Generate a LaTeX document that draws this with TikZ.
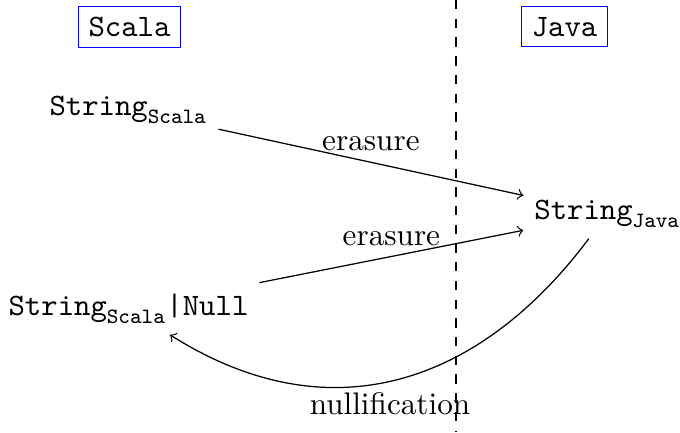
\documentclass[tikz,border=0pt]{standalone}
\begin{document}
\begin{tikzpicture}[x=0.3205pt,y=-0.3205pt,
  lang/.style={draw=blue, font=\ttfamily, anchor=base},
  typ/.style={anchor=base},
  conv/.style={->}]
\useasboundingbox (0,0) rectangle (680,432);

% boundary between the two languages
\coordinate (top) at (456,0);
\coordinate (bot) at (456,432);
\draw[dashed] (top) -- (bot);

% language headings
\node[lang] (scala) at (129.5,36.5) {Scala};
\node[lang] (java)  at (564.5,36)   {Java};

% types
\node[typ] (sS) at (128.5,115) {$\texttt{String}_{\mathtt{Scala}}$};
\node[typ] (sJ) at (607.5,219) {$\texttt{String}_{\mathtt{Java}}$};
\node[typ] (sN) at (128.5,315) {$\texttt{String}_{\mathtt{Scala}}\texttt{|Null}$};

% conversions
\draw[conv] (sS) -- node[above] {erasure} (sJ);
\draw[conv] (sN) -- node[above] {erasure} (sJ);
\coordinate (c1) at (480,384);
\coordinate (c2) at (330,436);
\draw[conv] (sJ) .. controls (c1) and (c2) .. node[below, pos=0.52] {nullification} (sN);
\end{tikzpicture}
\end{document}
